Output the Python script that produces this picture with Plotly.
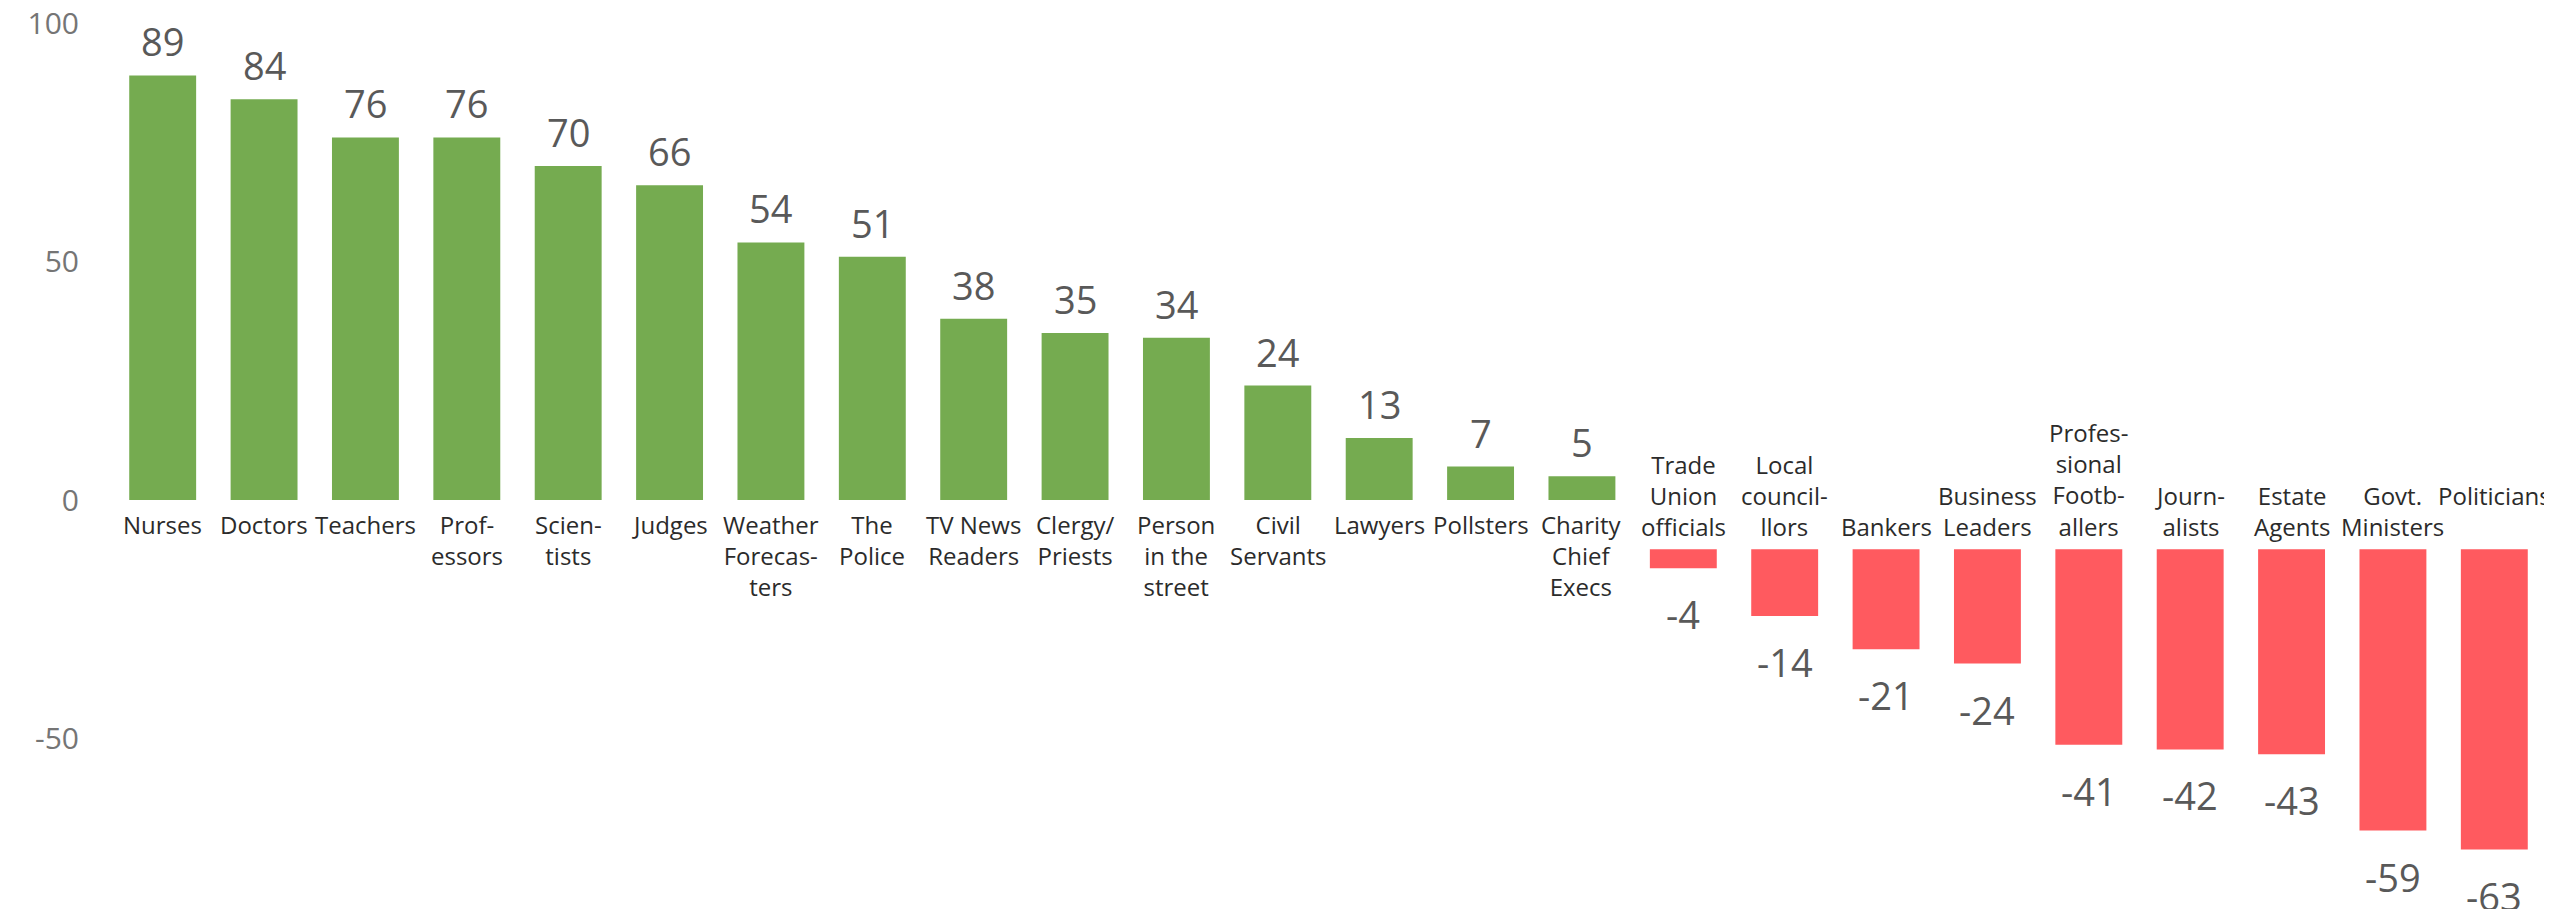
import plotly.graph_objects as go

categories = [
    "Nurses", "Doctors", "Teachers", "Prof-<br>essors", "Scien-<br>tists", "Judges",
    "Weather<br>Forecas-<br>ters", "The<br>Police", "TV News<br>Readers", "Clergy/<br>Priests",
    "Person<br>in the<br>street", "Civil<br>Servants", "Lawyers", "Pollsters",
    "Charity<br>Chief<br>Execs", "Trade<br>Union<br>officials", "Local<br>council-<br>llors",
    "Bankers", "Business<br>Leaders", "Profes-<br>sional<br>Footb-<br>allers", "Journ-<br>alists",
    "Estate<br>Agents", "Govt.<br>Ministers", "Politicians<br>\u00a0",
]
values = [89, 84, 76, 76, 70, 66, 54, 51, 38, 35, 34, 24, 13, 7, 5,
          -4, -14, -21, -24, -41, -42, -43, -59, -63]
ytick_vals = [100, 50, 0, -50]
ytick_text = ["100", "50", "0", "-50"]

NEG_OFFSET = -10.3  # negative bars hang below the category labels
GREEN = "#75AB50"
RED = "#FF5A5F"

xs = list(range(len(categories)))
bases = [0 if v >= 0 else NEG_OFFSET for v in values]
colors = [GREEN if v >= 0 else RED for v in values]

fig = go.Figure(go.Bar(
    x=xs, y=values, base=bases, marker=dict(color=colors, line=dict(width=0)),
    hoverinfo="skip",
))

ann = []
for x, v, b, c in zip(xs, values, bases, categories):
    if v >= 0:
        ann.append(dict(x=x, y=b + v, text=str(v), showarrow=False, yanchor="bottom",
                        yshift=6, font=dict(size=38, color="#595959")))
        ann.append(dict(x=x, y=0, text=c, showarrow=False, yanchor="top", yshift=-6,
                        font=dict(size=24, color="#2b2b2b")))
    else:
        ann.append(dict(x=x, y=b + v, text=str(v), showarrow=False, yanchor="top",
                        yshift=-18, font=dict(size=38, color="#595959")))
        ann.append(dict(x=x, y=b, text=c, showarrow=False, yanchor="bottom", yshift=4,
                        font=dict(size=24, color="#2b2b2b")))

fig.update_layout(
    width=2544, height=901,
    margin=dict(l=104, r=7, t=5, b=5),
    paper_bgcolor="white", plot_bgcolor="white",
    font=dict(family="Open Sans"),
    bargap=0.34,
    showlegend=False,
    annotations=ann,
    xaxis=dict(range=[-0.5, len(categories) - 0.5], showticklabels=False, showgrid=False,
               zeroline=False, showline=False, ticks=""),
    yaxis=dict(range=[-84.7, 102.1], tickvals=ytick_vals, ticktext=ytick_text,
               showgrid=False, zeroline=False, showline=False, ticks="",
               ticklabelstandoff=32, ticklabeloverflow="allow", automargin=False,
               tickfont=dict(size=30, color="#757575")),
)

fig.write_html("out.html")
